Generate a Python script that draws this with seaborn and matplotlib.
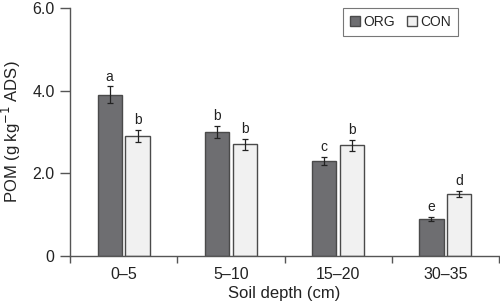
import seaborn as sns
import matplotlib.pyplot as plt
import pandas as pd
import numpy as np

depths = ['0–5', '5–10', '15–20', '30–35']
org_vals = [3.9, 3.0, 2.3, 0.9]
con_vals = [2.9, 2.7, 2.68, 1.5]
org_err = [0.2, 0.15, 0.1, 0.05]
con_err = [0.15, 0.13, 0.13, 0.07]
org_letters = ['a', 'b', 'c', 'e']
con_letters = ['b', 'b', 'b', 'd']

df = pd.DataFrame({
    'depth': depths * 2,
    'pom': org_vals + con_vals,
    'err': org_err + con_err,
    'letter': org_letters + con_letters,
    'treat': ['ORG'] * 4 + ['CON'] * 4,
})

sns.set_theme(style='ticks')
plt.rcParams['font.family'] = ['Liberation Sans', 'DejaVu Sans']

fig = plt.figure(figsize=(5, 3.05), dpi=100)
ax = fig.add_axes([0.14, 0.161, 0.858, 0.813])

edge = '#4a4a4a'
sns.barplot(df, x='depth', y='pom', hue='treat', order=depths,
            hue_order=['ORG', 'CON'], palette={'ORG': '#6d6e71', 'CON': '#f1f1f1'},
            width=0.52, gap=0.13, edgecolor=edge, linewidth=1.0,
            errorbar=None, ax=ax)

# error bars and letters on top of each bar
for patch, (_, row) in zip(ax.patches, df.iterrows()):
    cx = patch.get_x() + patch.get_width() / 2
    h = patch.get_height()
    ax.errorbar(cx, h, yerr=row['err'], fmt='none', ecolor='#222222',
                elinewidth=0.9, capsize=2.5, capthick=0.9)
    ax.text(cx, h + row['err'] + 0.07, row['letter'], ha='center', va='bottom',
            fontsize=10, color='#222222')

ax.set_ylim(0, 6)
ax.set_yticks([0, 2, 4, 6])
ax.set_yticklabels(['0', '2.0', '4.0', '6.0'])
ax.set_xlim(-0.5, 3.5)
ax.set_xticks(np.arange(-0.5, 4, 1), minor=True)
ax.tick_params(axis='x', which='major', length=0, pad=8)
ax.tick_params(axis='x', which='minor', length=5, width=1, color='#555555', direction='out')
ax.tick_params(axis='y', length=7, width=1, color='#555555', direction='out', pad=4)
ax.tick_params(labelsize=11.5, labelcolor='#222222')

for s in ['top', 'right']:
    ax.spines[s].set_visible(False)
for s in ['left', 'bottom']:
    ax.spines[s].set_color('#555555')
    ax.spines[s].set_linewidth(1.0)

ax.set_xlabel('Soil depth (cm)', fontsize=12, color='#222222', labelpad=3)
ax.set_ylabel('POM (g kg$^{-1}$ ADS)', fontsize=12, color='#222222', labelpad=7)

leg = ax.legend(title=None, ncol=2, loc='upper right', bbox_to_anchor=(0.905, 1.0),
                borderaxespad=0, fontsize=10, frameon=True, fancybox=False,
                handlelength=0.7, handleheight=0.7, handletextpad=0.25,
                columnspacing=0.9, borderpad=0.5)
leg.get_frame().set_edgecolor('#555555')
leg.get_frame().set_linewidth(0.8)

plt.savefig('out.png', dpi=100)
